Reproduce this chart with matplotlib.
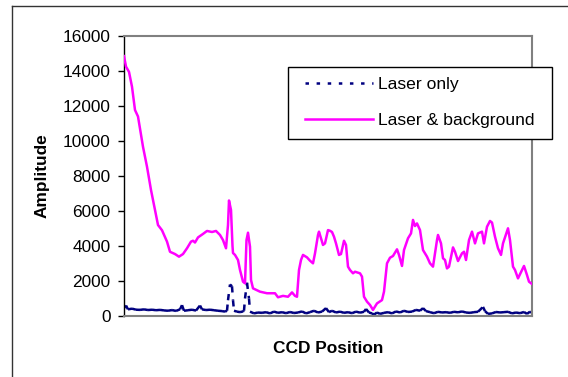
import numpy as np
import matplotlib
matplotlib.use("Agg")
import matplotlib.pyplot as plt
from matplotlib.collections import LineCollection
from matplotlib.lines import Line2D
from matplotlib.patches import Rectangle

plt.rcParams["font.family"] = ["Liberation Sans", "DejaVu Sans"]
plt.rcParams["lines.scale_dashes"] = False

# CCD positions / amplitudes
bg_pos = [0, 2, 5, 8, 11, 14, 19, 23, 27, 31, 34, 38, 43, 46, 51, 55, 59, 63, 67, 69,
          71, 74, 79, 83, 88, 92, 96, 99, 102, 104, 105, 107, 108.5, 109, 111, 114, 116,
          119, 121, 122.5, 124, 126, 127, 129, 136, 143, 151, 154, 159, 164, 168, 171,
          173, 175, 177, 179, 183, 186, 189, 191, 194, 195, 199, 201, 204, 206, 208, 210,
          212, 215, 217, 220, 222, 224, 226, 229, 231, 236, 238, 240, 243, 246, 249, 253,
          258, 260, 263, 266, 269, 273, 275, 278, 280, 284, 287, 289, 291, 293, 296, 299,
          303, 306, 309, 313, 314, 317, 319, 321, 323, 325, 329, 331, 334, 338, 340, 342,
          345, 348, 351, 354, 358, 360, 363, 366, 368, 371, 374, 377, 379, 384, 386, 389,
          391, 394, 398, 400, 403, 405, 408]
bg_amp = [14850, 14250, 13950, 13100, 11770, 11400, 9670, 8530, 7200, 6060, 5200, 4900,
          4250, 3670, 3540, 3390, 3540, 3870, 4250, 4300, 4200, 4490, 4690, 4860, 4800,
          4860, 4630, 4340, 3870, 5200, 6600, 6060, 4000, 3600, 3490, 3200, 2630, 1960,
          1870, 4340, 4760, 3960, 2060, 1580, 1390, 1300, 1300, 1070, 1150, 1100, 1350,
          1150, 1100, 2630, 3200, 3490, 3350, 3160, 3010, 3580, 4630, 4820, 4060, 4150,
          4910, 4870, 4800, 4530, 4150, 3490, 3540, 4300, 4060, 2820, 2630, 2440, 2530,
          2440, 2250, 1100, 820, 630, 350, 720, 910, 1390, 3010, 3330, 3430, 3810, 3490,
          2860, 3770, 4440, 4720, 5490, 5140, 5290, 4910, 3770, 3390, 3010, 2820, 4340,
          4630, 4150, 3300, 3200, 2720, 2820, 3920, 3670, 3140, 3580, 3670, 3200, 4340,
          4820, 4150, 4720, 4820, 4150, 5100, 5430, 5340, 4530, 3870, 3490, 4150, 5010,
          4340, 2820, 2630, 2150, 2630, 2860, 2340, 1960, 1830]

laser_pos = [0, 2, 4, 8, 12, 16, 20, 24, 28, 32, 36, 40, 44, 48, 52, 56, 58, 60, 64, 68,
             72, 76, 78, 82, 86, 90, 94, 98, 101, 103, 104, 106, 108, 109, 110, 113, 116,
             119, 120, 121, 123, 125, 126, 130, 134, 138, 142, 146, 150, 154, 158, 162,
             166, 170, 174, 178, 182, 186, 190, 194, 198, 202, 205, 208, 212, 216, 220,
             224, 228, 232, 236, 240, 242, 245, 248, 250, 253, 256, 260, 264, 268, 272,
             276, 280, 284, 288, 292, 296, 299, 302, 306, 310, 314, 318, 322, 326, 330,
             334, 338, 342, 346, 350, 354, 359, 361, 364, 368, 372, 376, 380, 384, 388,
             392, 396, 400, 403, 406, 408]
laser_amp = [450, 600, 380, 420, 360, 350, 380, 340, 360, 330, 350, 320, 300, 340, 290,
             380, 620, 300, 330, 360, 310, 600, 380, 340, 360, 330, 300, 280, 250, 300,
             900, 1800, 1700, 900, 300, 250, 220, 260, 300, 1000, 1900, 1000, 250, 150,
             200, 180, 220, 150, 250, 180, 220, 160, 230, 170, 200, 260, 150, 220, 300,
             200, 250, 450, 220, 300, 200, 250, 180, 220, 160, 250, 190, 240, 400, 200,
             150, 80, 200, 120, 180, 220, 150, 260, 200, 300, 230, 250, 350, 300, 450,
             280, 220, 160, 240, 200, 220, 180, 240, 210, 260, 200, 180, 220, 240, 520,
             280, 120, 150, 230, 200, 220, 240, 150, 200, 160, 230, 120, 250, 180]

y_ticks = [0, 2000, 4000, 6000, 8000, 10000, 12000, 14000, 16000]

W, H = 568, 377
fig = plt.figure(figsize=(W / 100, H / 100), dpi=100)
ax = fig.add_axes([124 / W, 1 - 316 / H, 408 / W, 280 / H])

# Laser only: dashes restart on every segment, like the spreadsheet renderer
pts = np.column_stack([laser_pos, laser_amp])
segs = np.stack([pts[:-1], pts[1:]], axis=1)
lc = LineCollection(segs, colors="#000080", linewidths=1.8,
                    linestyles=[(0, (4.5, 5))], capstyle="butt", zorder=2)
ax.add_collection(lc)

ax.plot(bg_pos, bg_amp, color="#FF00FF", lw=1.8, zorder=3)

ax.set_xlim(0, 408)
ax.set_ylim(0, 16000)
ax.set_yticks(y_ticks)
ax.set_yticklabels([str(t) for t in y_ticks], fontsize=12.4)
ax.set_xticks([])
ax.tick_params(axis="y", direction="out", length=4.3, width=1, pad=5.5, colors="black")

for side in ["top", "right", "bottom"]:
    ax.spines[side].set_color("#808080")
    ax.spines[side].set_linewidth(1.5)
ax.spines["left"].set_color("black")
ax.spines["left"].set_linewidth(1)

ax.set_ylabel("Amplitude", fontsize=12.4, fontweight="bold")
ax.yaxis.set_label_coords((42 - 124) / 408, 0.5)
ax.yaxis.label.set_va("center")
ax.set_xlabel("CCD Position", fontsize=12.4, fontweight="bold")
ax.xaxis.set_label_coords(0.5, (316 - 348.5) / 280)
ax.xaxis.label.set_va("center")

# legend with its own frame
fig.add_artist(Rectangle((288 / W, 1 - 139 / H), 264 / W, 72 / H,
                         transform=fig.transFigure, facecolor="white",
                         edgecolor="black", lw=1, zorder=5))
handles = [Line2D([], [], color="#000080", lw=1.8, linestyle=(0, (2.5, 5.5))),
           Line2D([], [], color="#FF00FF", lw=1.8)]
leg = fig.legend(handles, ["Laser only", "Laser & background"], loc="center left",
                 bbox_to_anchor=(305 / W, 1 - 102.5 / H), frameon=False, fontsize=12.6,
                 handlelength=3.9, handletextpad=0.25, labelspacing=1.2,
                 borderpad=0, borderaxespad=0)
leg.set_zorder(6)

# outer chart border (left and top visible)
fig.add_artist(Line2D([12 / W, 12 / W], [0, 1 - 6 / H], transform=fig.transFigure,
                      color="#333333", lw=1))
fig.add_artist(Line2D([12 / W, 1], [1 - 6 / H, 1 - 6 / H], transform=fig.transFigure,
                      color="#333333", lw=1))

fig.savefig("out.png", dpi=100)
